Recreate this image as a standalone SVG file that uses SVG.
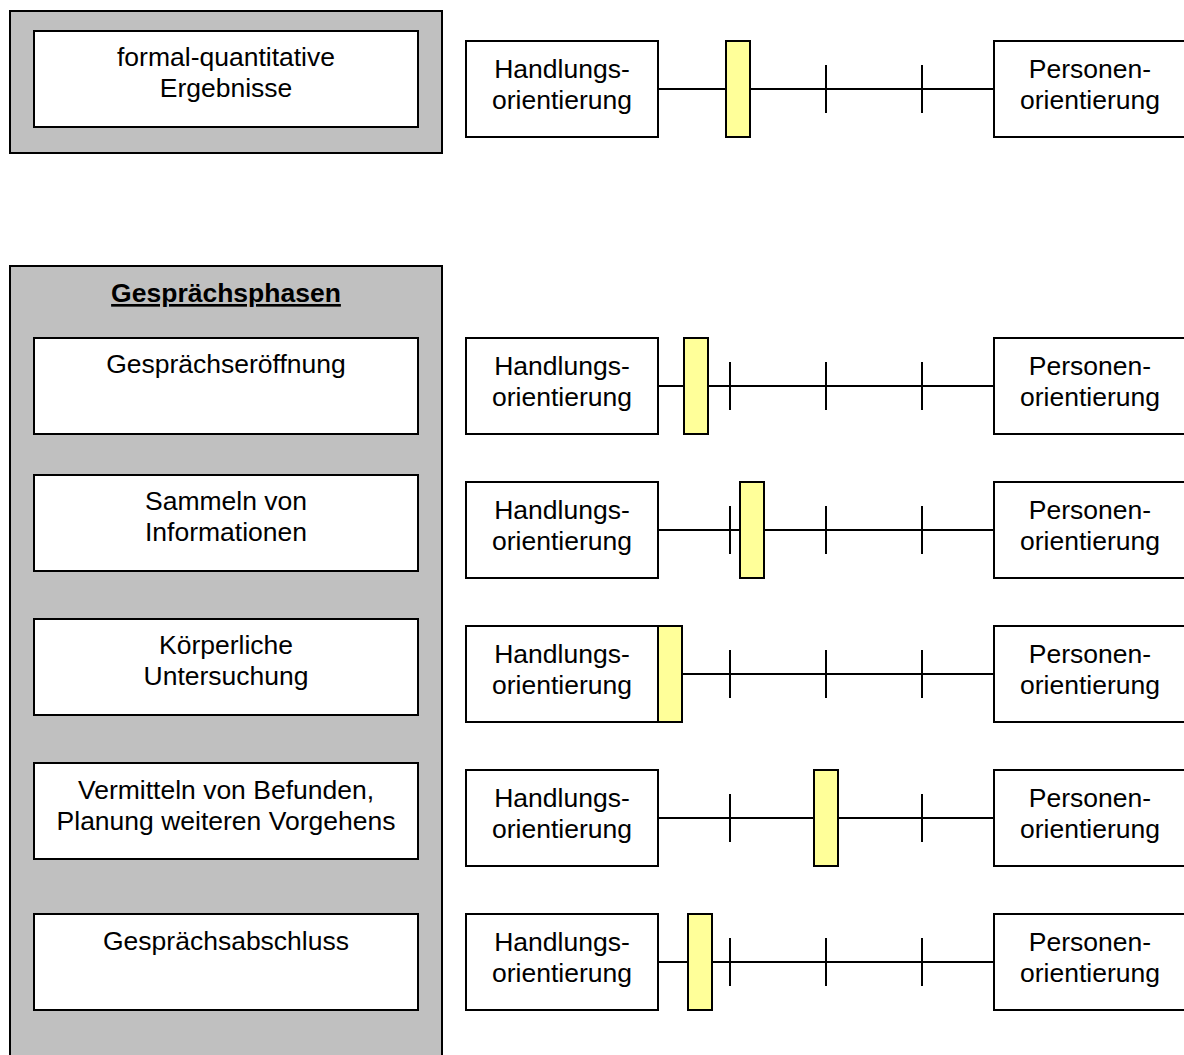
<svg xmlns="http://www.w3.org/2000/svg" width="1184" height="1055" viewBox="0 0 1184 1055">
<style>
.panel{fill:#C0C0C0;stroke:#000;stroke-width:2}
.box{fill:#fff;stroke:#000;stroke-width:2}
.mark{fill:#FFFF99;stroke:#000;stroke-width:2}
.ln{stroke:#000;stroke-width:2;fill:none}
text{font-family:"Liberation Sans",Arial,sans-serif;font-size:26.5px;fill:#000;text-anchor:middle}
.title{font-weight:bold;text-decoration:underline}
</style>
<rect width="1184" height="1055" fill="#fff"/>
<g id="panel-top"><rect class="panel" x="10" y="11" width="432" height="142"/></g>
<g id="panel-phases"><rect class="panel" x="10" y="266" width="432" height="800"/>
<text class="title" x="226" y="302">Gesprächsphasen</text></g>
<g id="n-formal"><rect class="box" x="34" y="31" width="384" height="96"/>
<text x="226" y="66">formal-quantitative</text><text x="226" y="97">Ergebnisse</text></g>
<g id="n-eroeffnung"><rect class="box" x="34" y="338" width="384" height="96"/>
<text x="226" y="373">Gesprächseröffnung</text></g>
<g id="n-sammeln"><rect class="box" x="34" y="475" width="384" height="96"/>
<text x="226" y="510">Sammeln von</text><text x="226" y="541">Informationen</text></g>
<g id="n-koerper"><rect class="box" x="34" y="619" width="384" height="96"/>
<text x="226" y="654">Körperliche</text><text x="226" y="685">Untersuchung</text></g>
<g id="n-vermitteln"><rect class="box" x="34" y="763" width="384" height="96"/>
<text x="226" y="799">Vermitteln von Befunden,</text><text x="226" y="830">Planung weiteren Vorgehens</text></g>
<g id="n-abschluss"><rect class="box" x="34" y="914" width="384" height="96"/>
<text x="226" y="950">Gesprächsabschluss</text></g>

<g id="connectors">
<path class="ln" d="M658 89H994M730 65V113M826 65V113M922 65V113"/>
<path class="ln" d="M658 386H994M730 362V410M826 362V410M922 362V410"/>
<path class="ln" d="M658 530H994M730 506V554M826 506V554M922 506V554"/>
<path class="ln" d="M658 674H994M730 650V698M826 650V698M922 650V698"/>
<path class="ln" d="M658 818H994M730 794V842M826 794V842M922 794V842"/>
<path class="ln" d="M658 962H994M730 938V986M826 938V986M922 938V986"/>
</g>

<g id="scale-0">
<rect class="box" x="466" y="41" width="192" height="96"/><text x="562" y="78">Handlungs-</text><text x="562" y="109">orientierung</text>
<rect class="box" x="994" y="41" width="200" height="96"/><text x="1090" y="78">Personen-</text><text x="1090" y="109">orientierung</text>
<rect class="mark" x="726" y="41" width="24" height="96"/></g>
<g id="scale-1">
<rect class="box" x="466" y="338" width="192" height="96"/><text x="562" y="375">Handlungs-</text><text x="562" y="406">orientierung</text>
<rect class="box" x="994" y="338" width="200" height="96"/><text x="1090" y="375">Personen-</text><text x="1090" y="406">orientierung</text>
<rect class="mark" x="684" y="338" width="24" height="96"/></g>
<g id="scale-2">
<rect class="box" x="466" y="482" width="192" height="96"/><text x="562" y="519">Handlungs-</text><text x="562" y="550">orientierung</text>
<rect class="box" x="994" y="482" width="200" height="96"/><text x="1090" y="519">Personen-</text><text x="1090" y="550">orientierung</text>
<rect class="mark" x="740" y="482" width="24" height="96"/></g>
<g id="scale-3">
<rect class="box" x="466" y="626" width="192" height="96"/><text x="562" y="663">Handlungs-</text><text x="562" y="694">orientierung</text>
<rect class="box" x="994" y="626" width="200" height="96"/><text x="1090" y="663">Personen-</text><text x="1090" y="694">orientierung</text>
<rect class="mark" x="658" y="626" width="24" height="96"/></g>
<g id="scale-4">
<rect class="box" x="466" y="770" width="192" height="96"/><text x="562" y="807">Handlungs-</text><text x="562" y="838">orientierung</text>
<rect class="box" x="994" y="770" width="200" height="96"/><text x="1090" y="807">Personen-</text><text x="1090" y="838">orientierung</text>
<rect class="mark" x="814" y="770" width="24" height="96"/></g>
<g id="scale-5">
<rect class="box" x="466" y="914" width="192" height="96"/><text x="562" y="951">Handlungs-</text><text x="562" y="982">orientierung</text>
<rect class="box" x="994" y="914" width="200" height="96"/><text x="1090" y="951">Personen-</text><text x="1090" y="982">orientierung</text>
<rect class="mark" x="688" y="914" width="24" height="96"/></g>
</svg>
